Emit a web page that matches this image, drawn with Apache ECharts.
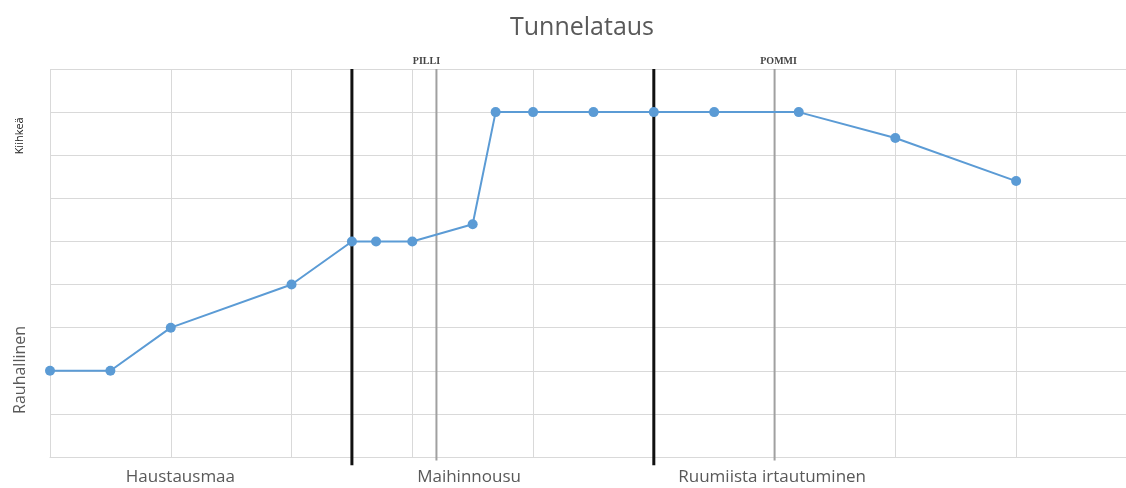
<!DOCTYPE html>
<html><head><meta charset="utf-8">
<script src="https://cdn.jsdelivr.net/npm/echarts@6/dist/echarts.min.js"></script>
<style>html,body{margin:0;padding:0;background:#fff}#c{width:1126px;height:488px}</style>
</head><body><div id="c"></div>
<script>
const titleText = 'Tunnelataus';
const xValues = [0, 0.5, 1, 2, 2.5, 2.7, 3, 3.5, 3.69, 4, 4.5, 5, 5.5, 6.2, 7, 8];
const yValues = [2, 2, 3, 4, 5, 5, 5, 5.4, 8, 8, 8, 8, 8, 8, 7.4, 6.4];
const phaseDividers = [2.5, 5];
const eventLines = [3.2, 6.0];
const eventNames = ['PILLI', 'POMMI'];
const phaseNames = ['Haustausmaa', 'Maihinnousu', 'Ruumiista irtautuminen'];
const phaseLabelX = [1.08, 3.47, 5.98];
const yLabelNames = ['Kiihkeä', 'Rauhallinen'];
const yLabelAt = [7.45, 2.02];

const font = "'Open Sans', 'Noto Sans', sans-serif";
const chart = echarts.init(document.getElementById('c'));

chart.setOption({
  animation: false,
  title: {text: titleText, left: 577, textAlign: 'center', top: 10,
    textStyle: {fontFamily: font, fontSize: 25, fontWeight: 'normal', color: '#595959'}},
  grid: {left: 50, right: 0, top: 69, bottom: 31, containLabel: false},
  xAxis: {type: 'value', min: 0, max: 8.91, interval: 1,
    axisLine: {show: true, lineStyle: {color: '#d9d9d9'}}, axisTick: {show: false}, axisLabel: {show: false},
    splitLine: {show: true, lineStyle: {color: '#d9d9d9', width: 1}}},
  yAxis: {type: 'value', min: 0, max: 9, interval: 1,
    axisLine: {show: false}, axisTick: {show: false}, axisLabel: {show: false},
    splitLine: {show: true, lineStyle: {color: '#d9d9d9', width: 1}}},
  series: [{
    type: 'line',
    data: xValues.map((x, i) => [x, yValues[i]]),
    symbol: 'circle', symbolSize: 10,
    lineStyle: {color: '#5b9bd5', width: 2},
    itemStyle: {color: '#5b9bd5'},
    z: 5
  }]
});

const g = [];
const lineOf = (v, y0, color, w) => {
  const a = chart.convertToPixel({gridIndex: 0}, [v, y0]);
  const b = chart.convertToPixel({gridIndex: 0}, [v, 9]);
  return {type: 'line', z: 3, shape: {x1: a[0], y1: a[1], x2: b[0], y2: b[1]},
    style: {stroke: color, lineWidth: w}};
};
eventLines.forEach((v, i) => {
  g.push(lineOf(v, -0.08, '#a0a0a0', 2));
  const p = chart.convertToPixel({gridIndex: 0}, [v, 9]);
  g.push({type: 'text', x: p[0] - (i === 0 ? 10 : -4), y: p[1] - 8, z: 4,
    style: {text: eventNames[i], fontFamily: "'Liberation Serif', 'DejaVu Serif', serif",
      fontSize: 10, fontWeight: 'bold', fill: '#444', align: 'center', verticalAlign: 'middle'}});
});
phaseDividers.forEach(v => g.push(lineOf(v, -0.19, '#111', 3)));
phaseNames.forEach((n, i) => {
  const p = chart.convertToPixel({gridIndex: 0}, [phaseLabelX[i], 0]);
  g.push({type: 'text', x: p[0], y: 477, style: {text: n, fontFamily: font, fontSize: 17,
    fill: '#595959', align: 'center', verticalAlign: 'middle'}});
});
yLabelNames.forEach((n, i) => {
  const p = chart.convertToPixel({gridIndex: 0}, [0, yLabelAt[i]]);
  g.push({type: 'text', x: 20, y: p[1], rotation: Math.PI / 2,
    style: {text: n, fontFamily: font, fontSize: i === 0 ? 11 : 16,
      fill: i === 0 ? '#222' : '#595959', align: 'center', verticalAlign: 'middle'}});
});
chart.setOption({graphic: g});
</script></body></html>
